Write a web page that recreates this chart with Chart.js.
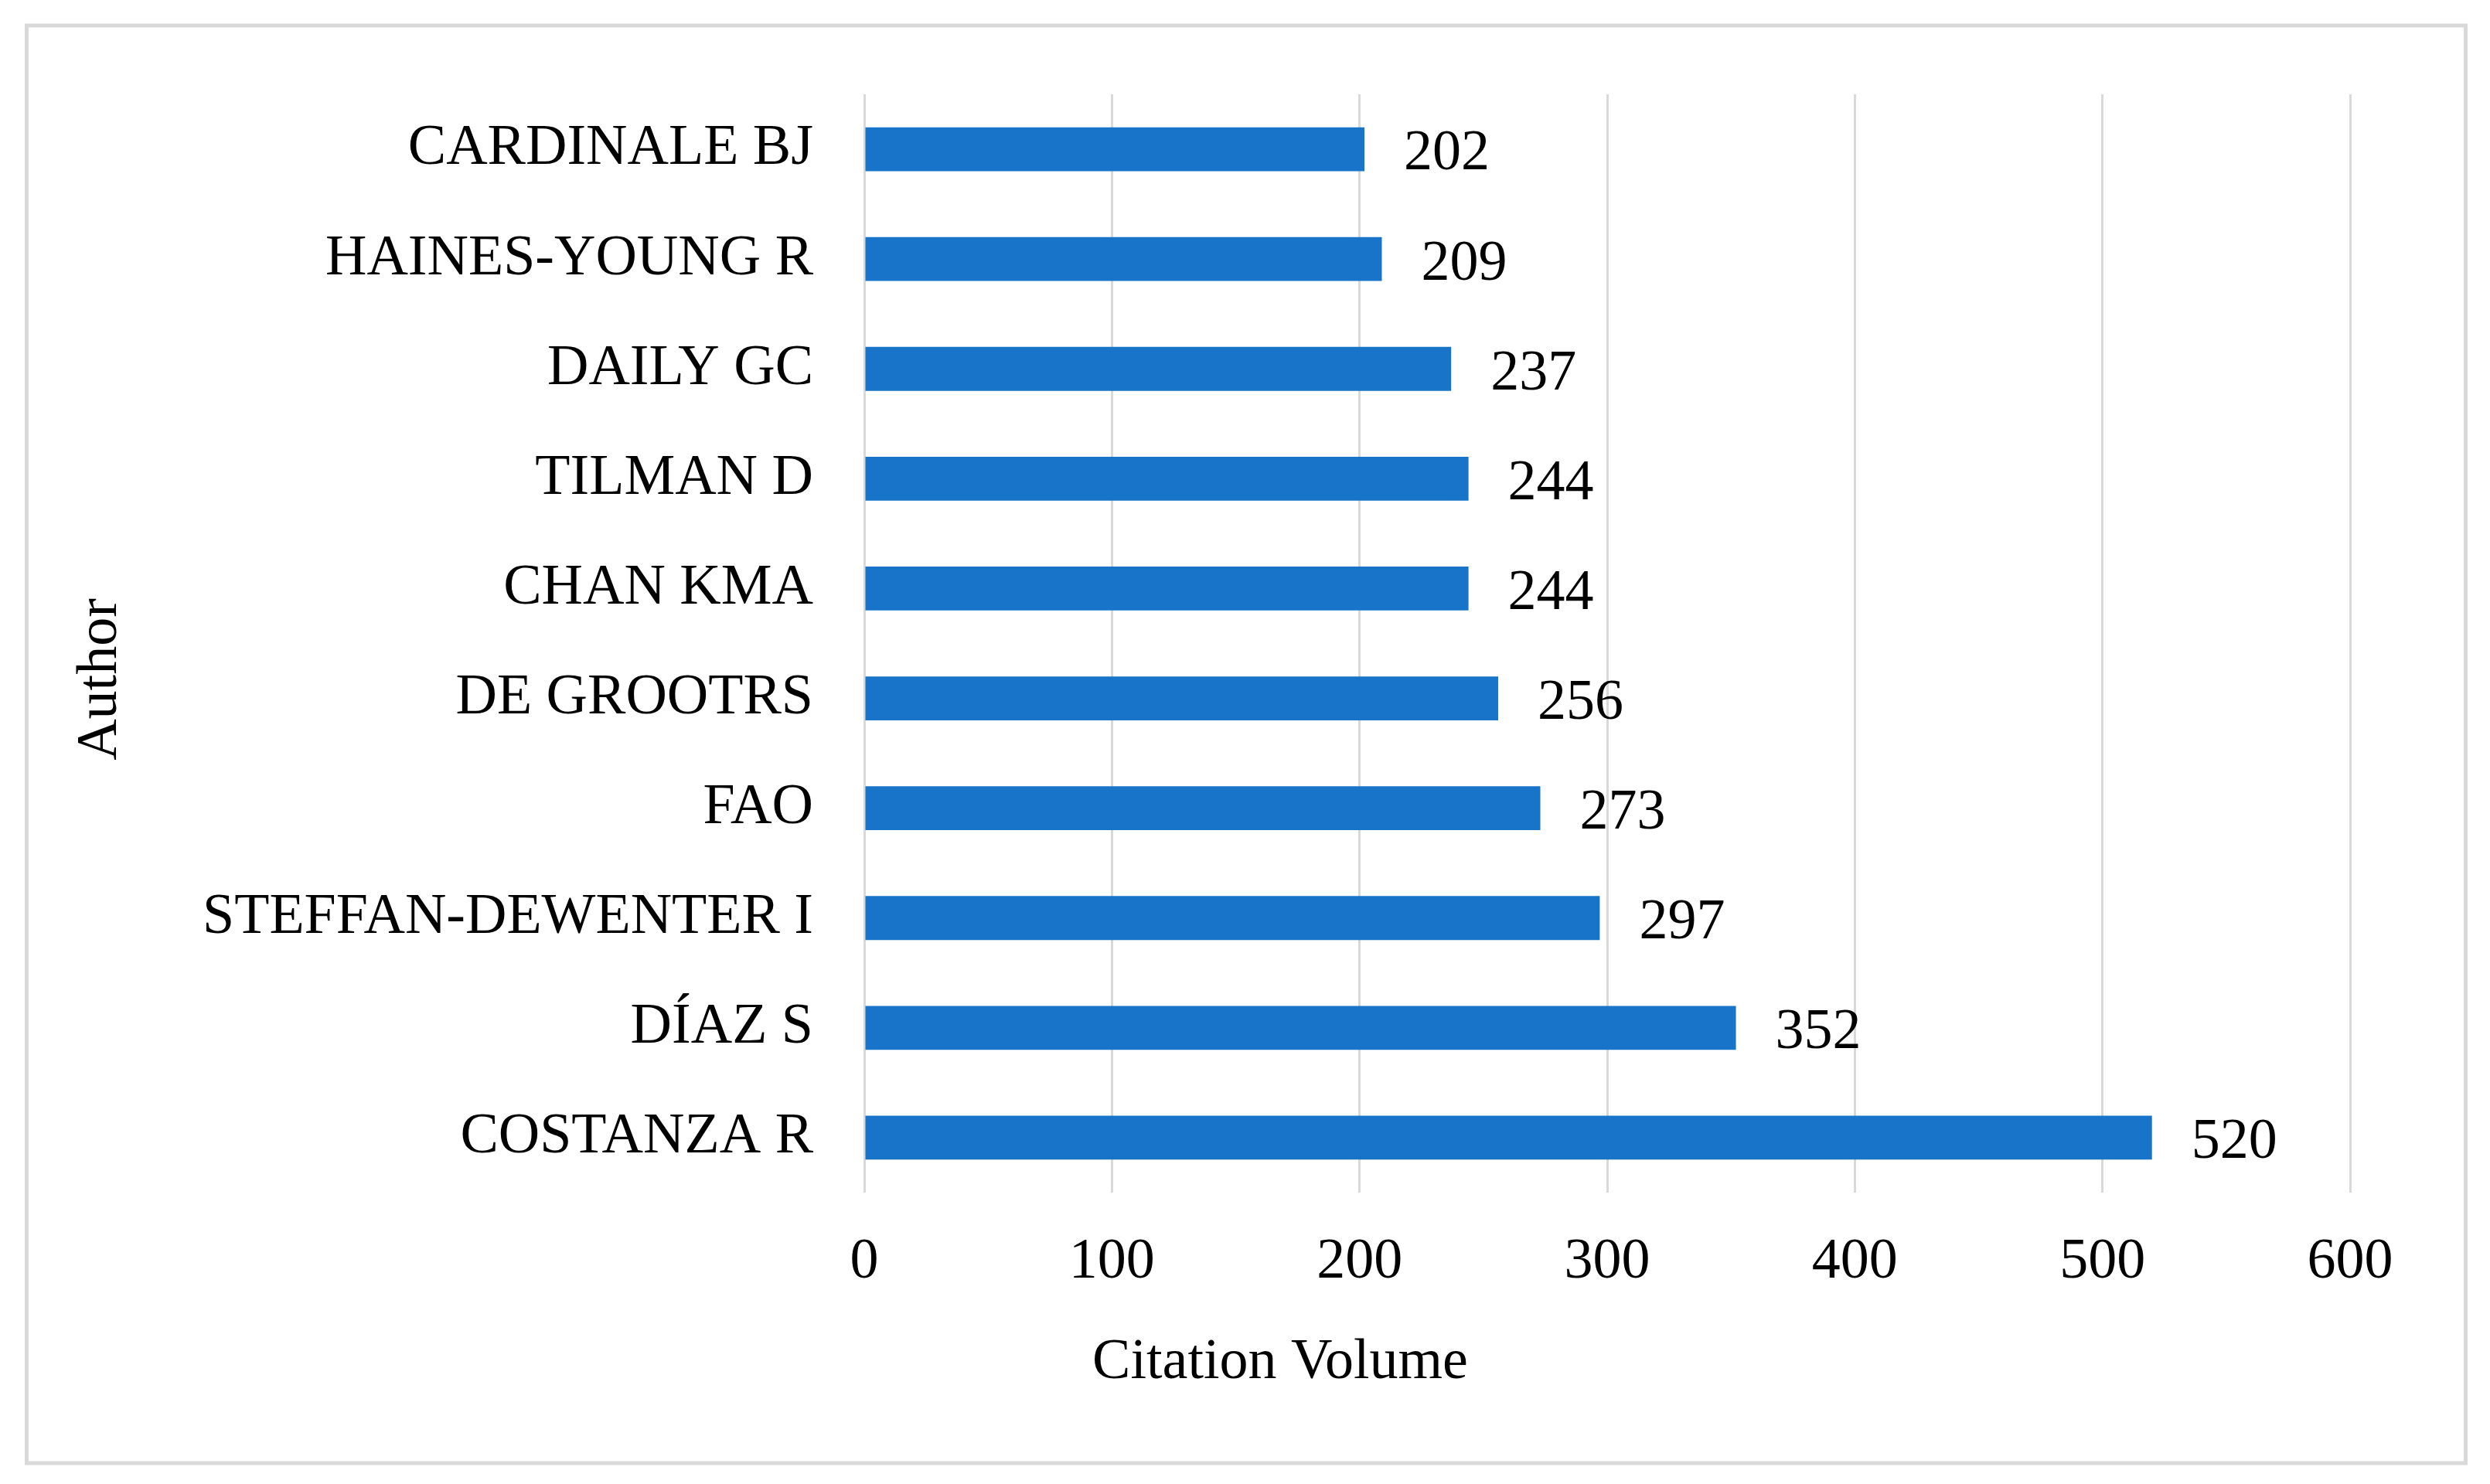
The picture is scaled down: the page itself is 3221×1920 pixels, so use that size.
<!DOCTYPE html>
<html>
<head>
<meta charset="utf-8">
<script src="https://cdn.jsdelivr.net/npm/chart.js@4/dist/chart.umd.min.js"></script>
<style>
  html, body { margin: 0; padding: 0; background: #fff; }
  canvas { display: block; }
</style>
</head>
<body>
<canvas id="myChart" width="3221" height="1920"></canvas>
<script>
// DATA (top to bottom, as shown)
var authors = ['CARDINALE BJ', 'HAINES-YOUNG R', 'DAILY GC', 'TILMAN D', 'CHAN KMA',
  'DE GROOTRS', 'FAO', 'STEFFAN-DEWENTER I', 'DÍAZ S', 'COSTANZA R'];
var citations = [202, 209, 237, 244, 244, 256, 273, 297, 352, 520];
var xTicks = [0, 100, 200, 300, 400, 500, 600];
var xTitle = 'Citation Volume';
var yTitle = 'Author';

var font = '"Liberation Serif", "Times New Roman", serif';

// frame + titles + value labels
var extras = {
  id: 'extras',
  beforeDraw: function(chart) {
    var c = chart.ctx;
    c.save();
    c.fillStyle = '#fff';
    c.fillRect(0, 0, chart.width, chart.height);
    c.strokeStyle = '#d9d9d9';
    c.lineWidth = 5;
    c.strokeRect(34.5, 33, 3155, 1860);
    c.restore();
  },
  afterDatasetsDraw: function(chart) {
    var c = chart.ctx;
    c.save();
    c.fillStyle = '#000';
    c.font = '74px ' + font;
    c.textBaseline = 'middle';
    c.textAlign = 'left';
    chart.getDatasetMeta(0).data.forEach(function(bar, i) {
      c.fillText(citations[i], bar.x + 51, bar.y + 7);
    });
    // axis titles
    c.textAlign = 'center';
    c.fillText(xTitle, 1656, 1764);
    c.translate(131, 879);
    c.rotate(-Math.PI / 2);
    c.fillText(yTitle, 0, 0);
    c.restore();
  }
};

var ctx = document.getElementById('myChart').getContext('2d');
var chart = new Chart(ctx, {
  type: 'bar',
  data: {
    labels: authors,
    datasets: [{
      data: citations,
      backgroundColor: '#1874c9',
      categoryPercentage: 1,
      barPercentage: 0.4
    }]
  },
  options: {
    indexAxis: 'y',
    responsive: false,
    devicePixelRatio: 1,
    animation: false,
    layout: { padding: { top: 122, right: 181, left: 0, bottom: 0 } },
    plugins: { legend: { display: false }, tooltip: { enabled: false } },
    scales: {
      x: {
        min: 0,
        max: 600,
        afterBuildTicks: function(scale) {
          scale.ticks = xTicks.map(function(v) { return { value: v }; });
        },
        afterFit: function(scale) { scale.height = 377; },
        grid: { color: '#d9d9d9', lineWidth: 3, drawTicks: false },
        border: { display: false },
        ticks: { color: '#000', font: { family: font, size: 74 }, padding: 46, maxRotation: 0 }
      },
      y: {
        afterFit: function(scale) { scale.width = 1118; },
        grid: { display: false },
        border: { display: false },
        ticks: { color: '#000', font: { family: font, size: 74 }, padding: 58, autoSkip: false }
      }
    }
  },
  plugins: [extras]
});
</script>
</body>
</html>
